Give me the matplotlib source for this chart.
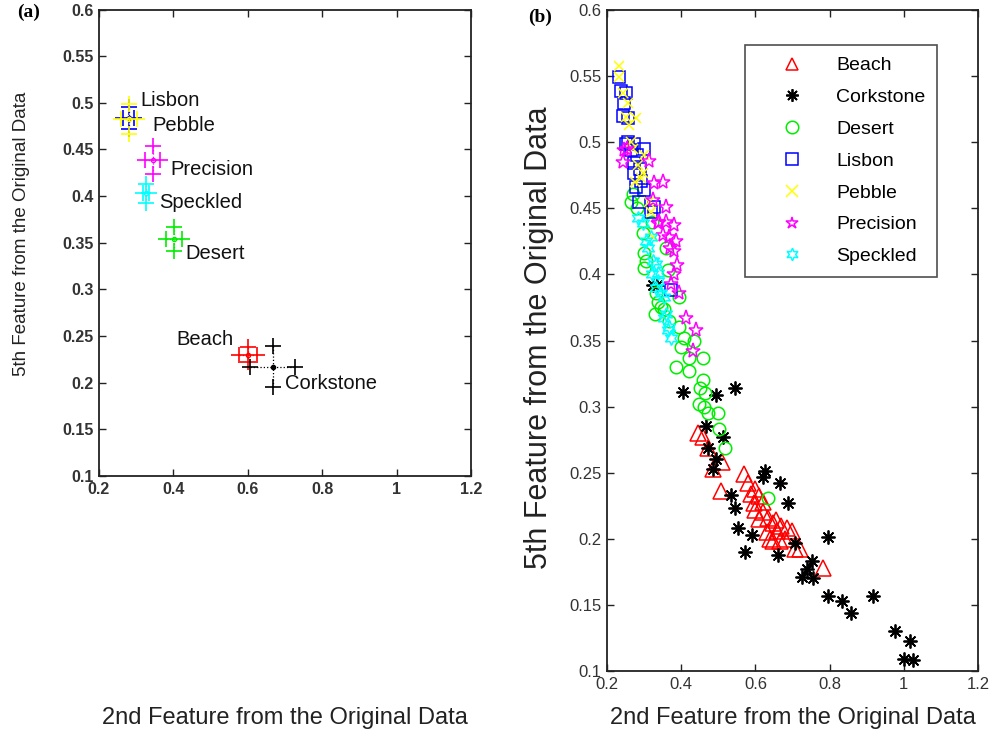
import matplotlib
matplotlib.use("Agg")
import matplotlib.pyplot as plt
import numpy as np

# ---- panel (a): class means and spreads ----
classes = ['Beach', 'Corkstone', 'Desert', 'Lisbon', 'Pebble', 'Precision', 'Speckled']
colors = ['#ff0000', '#000000', '#00ee00', '#0000ff', '#ffff00', '#ff00ff', '#00ffff']
mean_x = [0.601, 0.667, 0.402, 0.280, 0.280, 0.344, 0.327]
mean_y = [0.230, 0.217, 0.354, 0.484, 0.483, 0.439, 0.403]
std_x = [0.025, 0.061, 0.022, 0.015, 0.022, 0.019, 0.008]
std_y = [0.008, 0.022, 0.013, 0.012, 0.016, 0.015, 0.010]
label_x = [0.407, 0.70, 0.433, 0.31, 0.343, 0.391, 0.361]
label_y = [0.246, 0.199, 0.339, 0.503, 0.476, 0.428, 0.393]

# ---- panel (b): individual samples ----
beach_x = [0.444, 0.458, 0.471, 0.511, 0.487, 0.568, 0.579, 0.506, 0.587, 0.595,
           0.621, 0.635, 0.648, 0.659, 0.686, 0.699, 0.648, 0.667, 0.707, 0.721,
           0.783, 0.600, 0.610, 0.630, 0.640, 0.655, 0.620, 0.600, 0.610, 0.670, 0.680]
beach_y = [0.280, 0.277, 0.269, 0.258, 0.253, 0.249, 0.242, 0.236, 0.234, 0.227,
           0.220, 0.216, 0.212, 0.206, 0.208, 0.206, 0.198, 0.198, 0.192, 0.192,
           0.178, 0.222, 0.215, 0.205, 0.200, 0.214, 0.228, 0.238, 0.232, 0.210, 0.200]

cork_x = [0.404, 0.495, 0.546, 0.466, 0.514, 0.471, 0.493, 0.485, 0.627, 0.620,
          0.667, 0.533, 0.689, 0.546, 0.552, 0.592, 0.573, 0.662, 0.707, 0.796,
          0.753, 0.740, 0.726, 0.756, 0.796, 0.834, 0.858, 0.917, 0.976, 1.016,
          1.000, 1.024, 0.323, 0.335]
cork_y = [0.311, 0.309, 0.314, 0.285, 0.277, 0.269, 0.260, 0.253, 0.251, 0.247,
          0.242, 0.233, 0.227, 0.223, 0.208, 0.203, 0.190, 0.188, 0.197, 0.201,
          0.183, 0.177, 0.171, 0.170, 0.157, 0.153, 0.144, 0.157, 0.130, 0.123,
          0.109, 0.108, 0.392, 0.392]

desert_x = [0.270, 0.264, 0.297, 0.300, 0.305, 0.300, 0.364, 0.332, 0.345, 0.394,
            0.366, 0.393, 0.407, 0.399, 0.434, 0.460, 0.420, 0.385, 0.420, 0.458,
            0.452, 0.465, 0.447, 0.462, 0.471, 0.498, 0.501, 0.519, 0.635, 0.337,
            0.353, 0.330, 0.360, 0.320, 0.280]
desert_y = [0.461, 0.455, 0.431, 0.416, 0.410, 0.405, 0.403, 0.386, 0.375, 0.383,
            0.365, 0.360, 0.352, 0.345, 0.350, 0.337, 0.337, 0.330, 0.327, 0.320,
            0.314, 0.310, 0.302, 0.300, 0.295, 0.295, 0.283, 0.269, 0.231, 0.379,
            0.374, 0.370, 0.420, 0.440, 0.450]

lisbon_x = [0.232, 0.238, 0.251, 0.246, 0.243, 0.256, 0.256, 0.272, 0.300, 0.251,
            0.264, 0.272, 0.272, 0.291, 0.278, 0.300, 0.285, 0.326, 0.318, 0.372,
            0.280, 0.290]
lisbon_y = [0.549, 0.539, 0.537, 0.530, 0.520, 0.518, 0.500, 0.499, 0.495, 0.499,
            0.494, 0.484, 0.477, 0.471, 0.466, 0.464, 0.455, 0.451, 0.447, 0.388,
            0.490, 0.480]

pebble_x = [0.232, 0.232, 0.243, 0.256, 0.251, 0.278, 0.259, 0.264, 0.270, 0.283,
            0.297, 0.291, 0.313, 0.318, 0.323, 0.300, 0.275]
pebble_y = [0.558, 0.549, 0.537, 0.530, 0.519, 0.518, 0.513, 0.500, 0.495, 0.483,
            0.477, 0.473, 0.455, 0.447, 0.428, 0.490, 0.470]

prec_x = [0.246, 0.243, 0.255, 0.313, 0.326, 0.358, 0.323, 0.380, 0.337, 0.366,
          0.380, 0.390, 0.372, 0.393, 0.412, 0.439, 0.431, 0.350, 0.340, 0.360,
          0.370, 0.350, 0.385, 0.380]
prec_y = [0.494, 0.485, 0.495, 0.486, 0.469, 0.451, 0.456, 0.437, 0.439, 0.428,
          0.418, 0.407, 0.393, 0.386, 0.367, 0.358, 0.342, 0.470, 0.440, 0.440,
          0.420, 0.430, 0.425, 0.400]

speck_x = [0.283, 0.297, 0.318, 0.305, 0.332, 0.337, 0.325, 0.332, 0.345, 0.337,
           0.353, 0.358, 0.353, 0.366, 0.364, 0.372, 0.310, 0.320]
speck_y = [0.443, 0.439, 0.428, 0.425, 0.408, 0.401, 0.410, 0.390, 0.386, 0.395,
           0.383, 0.370, 0.367, 0.360, 0.358, 0.352, 0.420, 0.400]

samples_x = [beach_x, cork_x, desert_x, lisbon_x, pebble_x, prec_x, speck_x]
samples_y = [beach_y, cork_y, desert_y, lisbon_y, pebble_y, prec_y, speck_y]

markers = ['^', (8, 2, 0), 'o', 's', 'x', '*', (6, 1, 0)]
msizes = [11, 10, 9, 9, 7, 11, 10]

plt.rcParams['font.family'] = ['Liberation Sans', 'DejaVu Sans']

fig = plt.figure(figsize=(10.03, 7.37), dpi=100)
ax1 = fig.add_axes([99 / 1003, 1 - 476 / 737, 372 / 1003, 466.5 / 737])
ax2 = fig.add_axes([607 / 1003, 1 - 671 / 737, 371 / 1003, 661 / 737])


def style_axes(ax, bold=False, size=11):
    ax.set_xlim(0.2, 1.2)
    ax.set_ylim(0.1, 0.6)
    ax.set_xticks([0.2, 0.4, 0.6, 0.8, 1.0, 1.2])
    ax.set_xticklabels(['0.2', '0.4', '0.6', '0.8', '1', '1.2'])
    ax.set_yticks(np.arange(0.1, 0.61, 0.05))
    ax.set_yticklabels(['0.1', '0.15', '0.2', '0.25', '0.3', '0.35',
                        '0.4', '0.45', '0.5', '0.55', '0.6'])
    ax.tick_params(direction='in', top=True, right=True, length=5, width=1,
                   labelsize=size, pad=4, colors='#222222')
    for lab in ax.get_xticklabels() + ax.get_yticklabels():
        lab.set_color('#333333')
        if bold:
            lab.set_fontweight('bold')
    for sp in ax.spines.values():
        sp.set_linewidth(1.3)
        sp.set_color('#222222')


# panel (a)
for i, name in enumerate(classes):
    cx, cy, sx, sy = mean_x[i], mean_y[i], std_x[i], std_y[i]
    c = colors[i]
    ax1.plot([cx - sx, cx + sx], [cy, cy], ':', color=c, lw=0.9)
    ax1.plot([cx, cx], [cy - sy, cy + sy], ':', color=c, lw=0.9)
    ax1.plot([cx, cx, cx - sx, cx + sx], [cy + sy, cy - sy, cy, cy], '+',
             color=c, ms=12, mew=1.2, ls='none')
    ax1.plot([cx], [cy], marker='o', color=c, ms=3,
             mfc=(c if i == 1 else 'none'), ls='none')
    ax1.text(label_x[i], label_y[i], name, fontsize=14.5, va='center',
             ha='left', color='#111111')

style_axes(ax1, bold=True, size=11.5)
ax1.set_xlabel('2nd Feature from the Original Data', fontsize=17,
               color='#222222')
ax1.xaxis.set_label_coords(0.5, -0.495)
ax1.set_ylabel('5th Feature from the Original Data', fontsize=13.5,
               color='#222222')
ax1.yaxis.set_label_coords(-0.185, 0.52)

# panel (b)
for i, name in enumerate(classes):
    c = colors[i]
    if i == 1:
        ax2.plot(samples_x[i], samples_y[i], ls='none', marker=markers[i],
                 ms=msizes[i], mec=c, mfc=c, mew=1.3, label=name)
    else:
        ax2.plot(samples_x[i], samples_y[i], ls='none', marker=markers[i],
                 ms=msizes[i], mec=c, mfc='none', mew=1.1, label=name)

style_axes(ax2, size=12)
ax2.set_xlabel('2nd Feature from the Original Data', fontsize=17,
               color='#222222')
ax2.xaxis.set_label_coords(0.5, -0.055)
ax2.set_ylabel('5th Feature from the Original Data', fontsize=22,
               color='#222222')
ax2.yaxis.set_label_coords(-0.143, 0.505)

leg = ax2.legend(loc='upper left', bbox_to_anchor=(0.372, 0.947),
                 fontsize=14, frameon=True, fancybox=False, edgecolor='#222222',
                 handlelength=3.6, handletextpad=0.5, labelspacing=0.73,
                 borderpad=0.6, borderaxespad=0.0, numpoints=1)
leg.get_frame().set_linewidth(1.2)
for h in leg.legend_handles:
    h.set_markersize(9)

fig.text(17 / 1003, 1 - 12 / 737, '(a)', fontsize=14, fontweight='bold',
         family=['Liberation Serif', 'DejaVu Serif'], va='center', ha='left')
fig.text(528 / 1003, 1 - 17 / 737, '(b)', fontsize=14, fontweight='bold',
         family=['Liberation Serif', 'DejaVu Serif'], va='center', ha='left')

fig.savefig('out.png', dpi=100)
